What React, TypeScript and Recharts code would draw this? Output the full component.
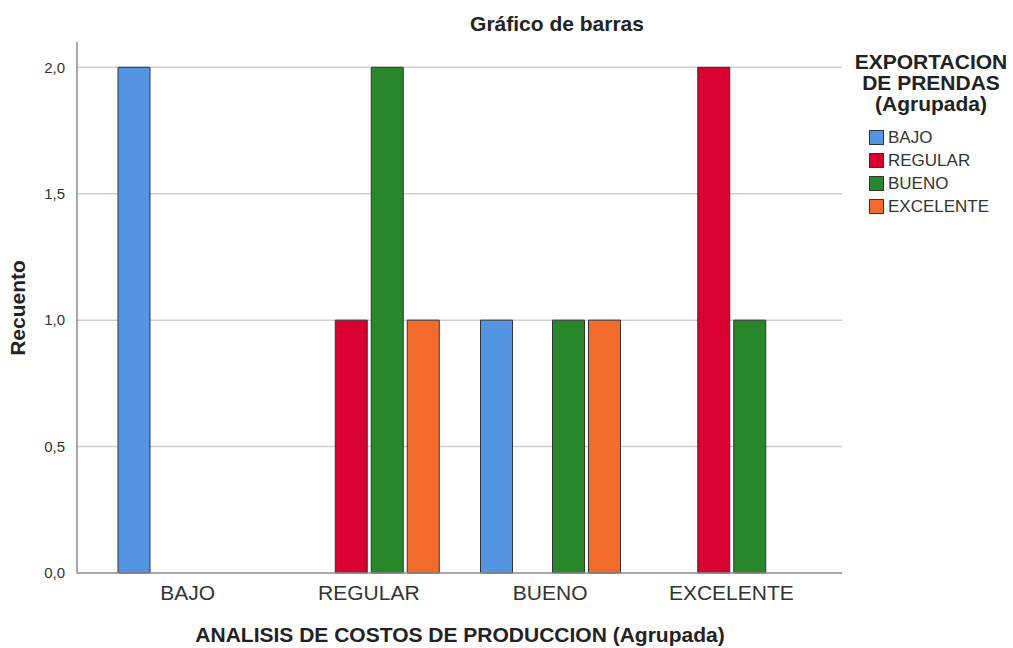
import React from 'react';
import { BarChart, Bar, XAxis, YAxis, CartesianGrid } from 'recharts';

const categories = ['BAJO', 'REGULAR', 'BUENO', 'EXCELENTE'];
const seriesNames = ['BAJO', 'REGULAR', 'BUENO', 'EXCELENTE'];
const seriesColors = ['#5394E3', '#D7002F', '#28862B', '#F26B2B'];

// counts per legend group, one entry per x category (null = no bar)
const bajoValues = [2, null, 1, null];
const regularValues = [null, 1, null, 2];
const buenoValues = [null, 2, 1, 1];
const excelenteValues = [null, 1, 1, null];

const yTicks = [0, 0.5, 1, 1.5, 2];
const yMax = 2.1;

const seriesValues = [bajoValues, regularValues, buenoValues, excelenteValues];

const data = categories.map((cat, i) => {
 const row: any = { name: cat };
 seriesNames.forEach((s, j) => {
 row['s' + j] = seriesValues[j][i];
 });
 return row;
});

const font = '"Liberation Sans", Arial, sans-serif';

// grid only at the tick values above zero
const gridRows = (props: any) => {
 const sc = props.yAxis && props.yAxis.scale;
 const off = props.offset;
 return yTicks
 .filter(t => t > 0)
 .map(t => {
 if (typeof sc === 'function') return sc(t);
 if (sc && typeof sc.map === 'function') return sc.map(t);
 return off.top + off.height * (1 - t / yMax);
 });
};

const App: React.FC = () => {
 return (
 <div style={{ position: 'absolute', left: 0, top: 0, width: 1013, height: 648, background: '#fff', fontFamily: font }}>
 <div style={{ position: 'absolute', left: 407, top: 12, width: 300, textAlign: 'center', fontWeight: 'bold', fontSize: 21, color: '#222' }}>
 Gráfico de barras
 </div>
 <BarChart
 width={1013}
 height={648}
 data={data}
 margin={{ top: 42, right: 171, left: 17, bottom: 45 }}
 barCategoryGap={21}
 barGap={4}
 >
 <CartesianGrid vertical={false} stroke="#cfcfcf" strokeWidth={1.5} horizontalCoordinatesGenerator={gridRows} />
 <XAxis
 dataKey="name"
 height={30}
 padding={{ left: 20, right: 20 }}
 axisLine={{ stroke: '#8a8a8a', strokeWidth: 1.5 }}
 tickLine={false}
 tick={{ fontSize: 21, fill: '#333', fontFamily: font }}
 tickMargin={6}
 />
 <YAxis
 width={60}
 domain={[0, yMax]}
 ticks={yTicks}
 interval={0}
 axisLine={{ stroke: '#8a8a8a', strokeWidth: 1.5 }}
 tickLine={false}
 tickMargin={6}
 tick={{ fontSize: 15, fill: '#333', fontFamily: font }}
 tickFormatter={(v: number) => v.toFixed(1).replace('.', ',')}
 />
 {seriesNames.map((s, j) => (
 <Bar
 key={s}
 dataKey={'s' + j}
 name={s}
 fill={seriesColors[j]}
 stroke="#333"
 strokeWidth={1}
 isAnimationActive={false}
 />
 ))}
 </BarChart>
 <div style={{ position: 'absolute', left: 0, top: 308, width: 0, height: 0 }}>
 <div style={{ position: 'absolute', left: -42, top: -12, width: 120, transform: 'rotate(-90deg)', transformOrigin: 'center', textAlign: 'center', fontWeight: 'bold', fontSize: 21, lineHeight: '24px', color: '#222' }}>
 Recuento
 </div>
 </div>
 <div style={{ position: 'absolute', left: 110, top: 623, width: 700, textAlign: 'center', fontWeight: 'bold', fontSize: 21, color: '#222' }}>
 ANALISIS DE COSTOS DE PRODUCCION (Agrupada)
 </div>
 <div style={{ position: 'absolute', left: 841, top: 51, width: 180, textAlign: 'center', fontWeight: 'bold', fontSize: 21, lineHeight: '21px', color: '#222' }}>
 EXPORTACION<br />DE PRENDAS<br />(Agrupada)
 </div>
 <div style={{ position: 'absolute', left: 869, top: 126 }}>
 {seriesNames.map((s, j) => (
 <div key={s} style={{ display: 'flex', alignItems: 'center', height: 23 }}>
 <div style={{ width: 15, height: 15, background: seriesColors[j], border: '1px solid #333', boxSizing: 'border-box', marginRight: 4 }} />
 <span style={{ fontSize: 17, color: '#333' }}>{s}</span>
 </div>
 ))}
 </div>
 </div>
 );
};

export default App;
